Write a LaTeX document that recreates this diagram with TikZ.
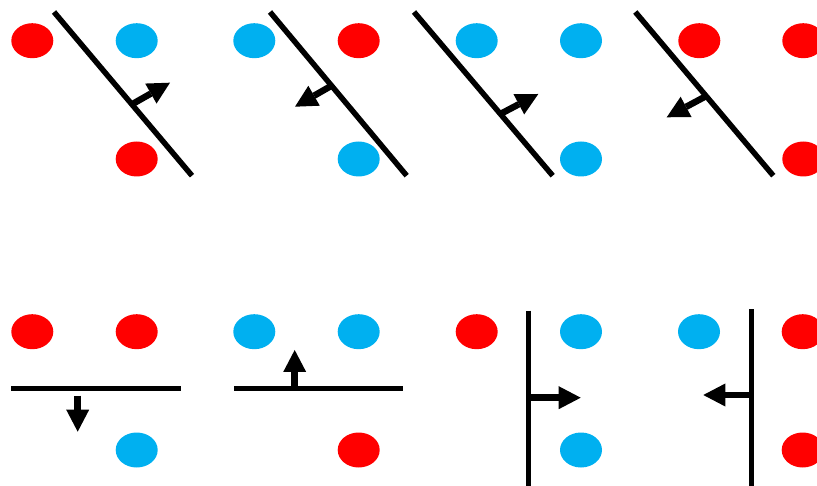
\documentclass[tikz,border=0pt]{standalone}
\usetikzlibrary{arrows.meta,shapes.geometric}
\definecolor{dotred}{HTML}{FF0000}
\definecolor{dotblue}{HTML}{00B0F0}
\tikzset{
 dot/.style={ellipse,minimum width=42pt,minimum height=35pt,inner sep=0pt,draw=none},
 rd/.style={dot,fill=dotred},
 bd/.style={dot,fill=dotblue},
 sepline/.style={line width=5.5pt,black},
 normalarrow/.style={line width=6.5pt,black,-{Triangle[width=23pt,length=22pt,line width=0pt]}}
}
\begin{document}
\begin{tikzpicture}[x=1pt,y=-1pt]
\useasboundingbox (0,0) rectangle (817,486);
\clip (0,0) rectangle (817,486);
% ---------- panel 1
\node[rd] (p1a) at (32.3,40.7) {};
\node[bd] (p1b) at (136.7,40.7) {};
\node[rd] (p1c) at (136.7,159) {};
\coordinate (l1s) at (54,12);
\coordinate (l1e) at (192,175.7);
\draw[sepline] (l1s) -- (l1e);
\coordinate (a1s) at (132.5,104);
\coordinate (a1e) at (170,82.7);
\draw[normalarrow] (a1s) -- (a1e);
% ---------- panel 2
\node[bd] (p2a) at (254.3,40.7) {};
\node[rd] (p2b) at (358.7,40.7) {};
\node[bd] (p2c) at (358.7,159) {};
\coordinate (l2s) at (270,12);
\coordinate (l2e) at (406.7,175.7);
\draw[sepline] (l2s) -- (l2e);
\coordinate (a2s) at (331,86);
\coordinate (a2e) at (295,106.7);
\draw[normalarrow] (a2s) -- (a2e);
% ---------- panel 3
\node[bd] (p3a) at (476.7,40.7) {};
\node[bd] (p3b) at (581,40.7) {};
\node[bd] (p3c) at (581,159) {};
\coordinate (l3s) at (414,12);
\coordinate (l3e) at (552.7,175.7);
\draw[sepline] (l3s) -- (l3e);
\coordinate (a3s) at (501.7,113.3);
\coordinate (a3e) at (538.3,94);
\draw[normalarrow] (a3s) -- (a3e);
% ---------- panel 4
\node[rd] (p4a) at (699.3,40.7) {};
\node[rd] (p4b) at (803.3,40.7) {};
\node[rd] (p4c) at (803.3,159) {};
\coordinate (l4s) at (635.3,12);
\coordinate (l4e) at (773.3,175.7);
\draw[sepline] (l4s) -- (l4e);
\coordinate (a4s) at (705,96.7);
\coordinate (a4e) at (666.7,117.3);
\draw[normalarrow] (a4s) -- (a4e);
% ---------- panel 5
\node[rd] (p5a) at (32.3,331.7) {};
\node[rd] (p5b) at (136.7,331.7) {};
\node[bd] (p5c) at (136.7,450) {};
\coordinate (l5s) at (11,388.7);
\coordinate (l5e) at (180.7,388.7);
\draw[sepline] (l5s) -- (l5e);
\coordinate (a5s) at (77.7,395.7);
\coordinate (a5e) at (77.7,431.7);
\draw[normalarrow] (a5s) -- (a5e);
% ---------- panel 6
\node[bd] (p6a) at (254.3,331.7) {};
\node[bd] (p6b) at (358.7,331.7) {};
\node[rd] (p6c) at (358.7,450) {};
\coordinate (l6s) at (234,388.3);
\coordinate (l6e) at (402.7,388.3);
\draw[sepline] (l6s) -- (l6e);
\coordinate (a6s) at (294.7,388.3);
\coordinate (a6e) at (294.7,350);
\draw[normalarrow] (a6s) -- (a6e);
% ---------- panel 7
\node[rd] (p7a) at (476.7,331.7) {};
\node[bd] (p7b) at (581,331.7) {};
\node[bd] (p7c) at (581,450) {};
\coordinate (l7s) at (528.7,310.7);
\coordinate (l7e) at (528.7,490);
\draw[sepline] (l7s) -- (l7e);
\coordinate (a7s) at (531,397.7);
\coordinate (a7e) at (580.7,397.7);
\draw[normalarrow] (a7s) -- (a7e);
% ---------- panel 8
\node[bd] (p8a) at (699,331.7) {};
\node[rd] (p8b) at (802.7,331.7) {};
\node[rd] (p8c) at (802.7,450) {};
\coordinate (l8s) at (751.3,309.3);
\coordinate (l8e) at (751.3,490);
\draw[sepline] (l8s) -- (l8e);
\coordinate (a8s) at (751.3,395);
\coordinate (a8e) at (703.3,395);
\draw[normalarrow] (a8s) -- (a8e);
\end{tikzpicture}
\end{document}
